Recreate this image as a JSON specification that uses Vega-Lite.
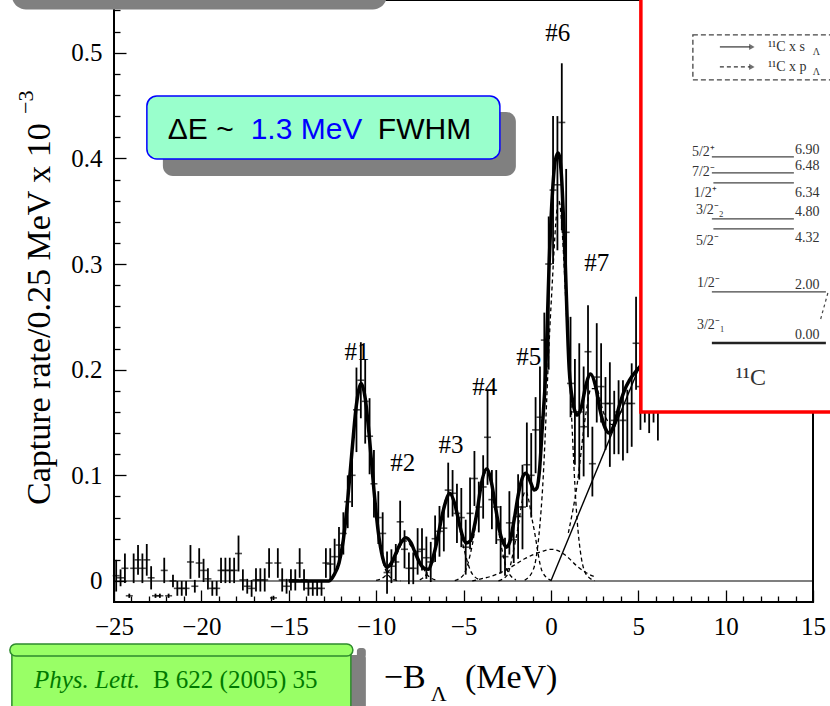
{
"$schema": "https://vega.github.io/schema/vega-lite/v6.json",
"width": 699, "height": 602,
"autosize": {"type": "none"},
"padding": {"left": 114, "top": 0, "right": 17, "bottom": 104},
"background": "white",
"config": {"view": {"stroke": "#000", "strokeWidth": 2}},
"resolve": {"axis": {"x": "independent", "y": "independent"}},
"datasets": {
"pts": [
{"x":-24.875,"y":0.005,"lo":-0.01,"hi":0.02},{"x":-24.625,"y":0.003,"lo":-0.005,"hi":0.011},{"x":-24.375,"y":0.012,"lo":-0.002,"hi":0.026},{"x":-24.125,"y":-0.014,"lo":-0.016,"hi":-0.012},
{"x":-23.875,"y":0.012,"lo":-0.002,"hi":0.026},{"x":-23.625,"y":0.02,"lo":0.006,"hi":0.034},{"x":-23.375,"y":0.012,"lo":-0.002,"hi":0.026},{"x":-23.125,"y":0.02,"lo":0.005,"hi":0.035},
{"x":-22.875,"y":0.003,"lo":-0.008,"hi":0.014},{"x":-22.625,"y":-0.014,"lo":-0.016,"hi":-0.012},{"x":-22.375,"y":-0.014,"lo":-0.016,"hi":-0.012},{"x":-22.125,"y":0.01,"lo":-0.002,"hi":0.022},
{"x":-21.875,"y":-0.014,"lo":-0.016,"hi":-0.012},{"x":-21.625,"y":0,"lo":-0.006,"hi":0.006},{"x":-21.375,"y":-0.007,"lo":-0.014,"hi":0},{"x":-21.125,"y":-0.007,"lo":-0.014,"hi":0},
{"x":-20.875,"y":-0.007,"lo":-0.014,"hi":0},{"x":-20.625,"y":0.018,"lo":0.002,"hi":0.034},{"x":-20.375,"y":-0.005,"lo":-0.011,"hi":0.001},{"x":-20.125,"y":0.017,"lo":0.003,"hi":0.031},
{"x":-19.875,"y":0.01,"lo":-0.001,"hi":0.021},{"x":-19.625,"y":0.002,"lo":-0.008,"hi":0.012},{"x":-19.375,"y":-0.007,"lo":-0.014,"hi":0},{"x":-19.125,"y":-0.007,"lo":-0.014,"hi":0},
{"x":-18.875,"y":0.01,"lo":-0.002,"hi":0.022},{"x":-18.625,"y":0.01,"lo":-0.002,"hi":0.022},{"x":-18.375,"y":0.01,"lo":-0.002,"hi":0.022},{"x":-18.125,"y":0.01,"lo":-0.002,"hi":0.022},
{"x":-17.875,"y":0.026,"lo":0.009,"hi":0.043},{"x":-17.625,"y":0.001,"lo":-0.009,"hi":0.011},{"x":-17.375,"y":-0.005,"lo":-0.012,"hi":0.002},{"x":-17.125,"y":-0.007,"lo":-0.015,"hi":0.001},
{"x":-16.875,"y":0.001,"lo":-0.01,"hi":0.012},{"x":-16.625,"y":0.001,"lo":-0.01,"hi":0.012},{"x":-16.375,"y":0.001,"lo":-0.01,"hi":0.012},{"x":-16.125,"y":0.017,"lo":0.003,"hi":0.031},
{"x":-15.875,"y":-0.016,"lo":-0.018,"hi":-0.014},{"x":-15.625,"y":0.017,"lo":0.003,"hi":0.031},{"x":-15.375,"y":0.001,"lo":-0.01,"hi":0.012},{"x":-15.125,"y":-0.005,"lo":-0.012,"hi":0.002},
{"x":-14.875,"y":0.001,"lo":-0.009,"hi":0.011},{"x":-14.625,"y":0.001,"lo":-0.009,"hi":0.011},{"x":-14.375,"y":0.017,"lo":0.003,"hi":0.031},{"x":-14.125,"y":0.001,"lo":-0.009,"hi":0.011},
{"x":-13.875,"y":-0.007,"lo":-0.014,"hi":0},{"x":-13.625,"y":-0.007,"lo":-0.014,"hi":0},{"x":-13.375,"y":-0.007,"lo":-0.014,"hi":0},{"x":-13.125,"y":-0.007,"lo":-0.014,"hi":0},
{"x":-12.875,"y":0.017,"lo":0.003,"hi":0.031},{"x":-12.625,"y":0.016,"lo":0.001,"hi":0.031},{"x":-12.375,"y":0.023,"lo":0.006,"hi":0.04},{"x":-12.125,"y":0.034,"lo":0.017,"hi":0.051},
{"x":-11.875,"y":0.045,"lo":0.025,"hi":0.065},{"x":-11.625,"y":0.075,"lo":0.05,"hi":0.1},{"x":-11.375,"y":0.1,"lo":0.07,"hi":0.13},{"x":-11.125,"y":0.162,"lo":0.122,"hi":0.202},
{"x":-10.875,"y":0.19,"lo":0.154,"hi":0.226},{"x":-10.625,"y":0.17,"lo":0.13,"hi":0.21},{"x":-10.375,"y":0.137,"lo":0.101,"hi":0.173},{"x":-10.125,"y":0.092,"lo":0.06,"hi":0.124},
{"x":-9.875,"y":0.06,"lo":0.035,"hi":0.085},{"x":-9.625,"y":0.045,"lo":0.025,"hi":0.065},{"x":-9.375,"y":0.008,"lo":-0.012,"hi":0.028},{"x":-9.125,"y":0.014,"lo":-0.002,"hi":0.03},
{"x":-8.875,"y":0.018,"lo":0.001,"hi":0.035},{"x":-8.625,"y":0.056,"lo":0.036,"hi":0.076},{"x":-8.375,"y":0.03,"lo":0.012,"hi":0.048},{"x":-8.125,"y":0.012,"lo":-0.003,"hi":0.027},
{"x":-7.875,"y":0.012,"lo":-0.003,"hi":0.027},{"x":-7.625,"y":0.028,"lo":0.006,"hi":0.05},{"x":-7.375,"y":0.03,"lo":0.01,"hi":0.05},{"x":-7.125,"y":0.022,"lo":0.002,"hi":0.042},
{"x":-6.875,"y":0.018,"lo":-0.001,"hi":0.037},{"x":-6.625,"y":0.04,"lo":0.018,"hi":0.062},{"x":-6.375,"y":0.047,"lo":0.023,"hi":0.071},{"x":-6.125,"y":0.05,"lo":0.028,"hi":0.072},
{"x":-5.875,"y":0.086,"lo":0.06,"hi":0.112},{"x":-5.625,"y":0.083,"lo":0.061,"hi":0.105},{"x":-5.375,"y":0.064,"lo":0.036,"hi":0.092},{"x":-5.125,"y":0.06,"lo":0.032,"hi":0.088},
{"x":-4.875,"y":0.032,"lo":0.006,"hi":0.058},{"x":-4.625,"y":0.064,"lo":0.03,"hi":0.098},{"x":-4.375,"y":0.097,"lo":0.071,"hi":0.123},{"x":-4.125,"y":0.07,"lo":0.046,"hi":0.094},
{"x":-3.875,"y":0.089,"lo":0.059,"hi":0.119},{"x":-3.625,"y":0.136,"lo":0.091,"hi":0.181},{"x":-3.375,"y":0.077,"lo":0.049,"hi":0.105},{"x":-3.125,"y":0.07,"lo":0.035,"hi":0.105},
{"x":-2.875,"y":0.039,"lo":0.007,"hi":0.071},{"x":-2.625,"y":0.023,"lo":0.005,"hi":0.041},{"x":-2.375,"y":0.055,"lo":0.025,"hi":0.085},{"x":-2.125,"y":0.039,"lo":0.017,"hi":0.061},
{"x":-1.875,"y":0.061,"lo":0.021,"hi":0.101},{"x":-1.625,"y":0.07,"lo":0.03,"hi":0.11},{"x":-1.375,"y":0.11,"lo":0.07,"hi":0.15},{"x":-1.125,"y":0.1,"lo":0.06,"hi":0.14},
{"x":-0.875,"y":0.143,"lo":0.102,"hi":0.174},{"x":-0.625,"y":0.155,"lo":0.102,"hi":0.203},{"x":-0.375,"y":0.228,"lo":0.165,"hi":0.254},{"x":-0.125,"y":0.3,"lo":0.2,"hi":0.345},
{"x":0.125,"y":0.37,"lo":0.3,"hi":0.44},{"x":0.375,"y":0.375,"lo":0.313,"hi":0.44},{"x":0.625,"y":0.434,"lo":0.332,"hi":0.49},{"x":0.875,"y":0.33,"lo":0.27,"hi":0.39},
{"x":1.125,"y":0.187,"lo":0.155,"hi":0.25},{"x":1.375,"y":0.16,"lo":0.11,"hi":0.21},{"x":1.625,"y":0.16,"lo":0.096,"hi":0.225},{"x":1.875,"y":0.146,"lo":0.099,"hi":0.203},
{"x":2.125,"y":0.217,"lo":0.136,"hi":0.261},{"x":2.375,"y":0.111,"lo":0.08,"hi":0.146},{"x":2.625,"y":0.193,"lo":0.15,"hi":0.244},{"x":2.875,"y":0.184,"lo":0.15,"hi":0.225},
{"x":3.125,"y":0.168,"lo":0.124,"hi":0.193},{"x":3.375,"y":0.168,"lo":0.108,"hi":0.207},{"x":3.625,"y":0.152,"lo":0.12,"hi":0.18},{"x":3.875,"y":0.16,"lo":0.12,"hi":0.19},
{"x":4.125,"y":0.152,"lo":0.114,"hi":0.19},{"x":4.375,"y":0.168,"lo":0.121,"hi":0.181},{"x":4.625,"y":0.168,"lo":0.127,"hi":0.206},{"x":4.875,"y":0.225,"lo":0.181,"hi":0.269},
{"x":5.125,"y":0.184,"lo":0.143,"hi":0.225},{"x":5.375,"y":0.2,"lo":0.15,"hi":0.25},{"x":5.625,"y":0.21,"lo":0.14,"hi":0.28},{"x":5.875,"y":0.2,"lo":0.15,"hi":0.25},
{"x":6.125,"y":0.19,"lo":0.133,"hi":0.25}
],
"fit": [
{"x":-15,"y":0},{"x":-12.7,"y":0},{"x":-12.4,"y":0.006},{"x":-12.125,"y":0.017},{"x":-11.875,"y":0.039},{"x":-11.625,"y":0.077},{"x":-11.375,"y":0.124},{"x":-11.125,"y":0.167},{"x":-10.85,"y":0.187},{"x":-10.625,"y":0.173},{"x":-10.375,"y":0.134},{"x":-10.125,"y":0.086},{"x":-9.875,"y":0.046},{"x":-9.625,"y":0.022},{"x":-9.4,"y":0.013},{"x":-9.125,"y":0.017},{"x":-8.875,"y":0.026},{"x":-8.625,"y":0.035},{"x":-8.3,"y":0.041},{"x":-8,"y":0.036},{"x":-7.75,"y":0.026},{"x":-7.5,"y":0.017},{"x":-7.25,"y":0.012},{"x":-7,"y":0.011},{"x":-6.75,"y":0.022},{"x":-6.5,"y":0.039},{"x":-6.25,"y":0.06},{"x":-6,"y":0.076},{"x":-5.8,"y":0.083},{"x":-5.5,"y":0.073},{"x":-5.25,"y":0.055},{"x":-5,"y":0.04},{"x":-4.83,"y":0.036},{"x":-4.6,"y":0.038},{"x":-4.4,"y":0.05},{"x":-4.2,"y":0.068},{"x":-4,"y":0.09},{"x":-3.68,"y":0.106},{"x":-3.4,"y":0.093},{"x":-3.15,"y":0.068},{"x":-2.9,"y":0.045},{"x":-2.65,"y":0.034},{"x":-2.54,"y":0.032},{"x":-2.35,"y":0.037},{"x":-2.1,"y":0.058},{"x":-1.85,"y":0.083},{"x":-1.6,"y":0.099},{"x":-1.43,"y":0.102},{"x":-1.2,"y":0.095},{"x":-0.95,"y":0.086},{"x":-0.8,"y":0.088},{"x":-0.65,"y":0.105},{"x":-0.5,"y":0.143},{"x":-0.29,"y":0.2},{"x":-0.1,"y":0.3},{"x":0.1,"y":0.37},{"x":0.25,"y":0.398},{"x":0.42,"y":0.405},{"x":0.6,"y":0.385},{"x":0.8,"y":0.31},{"x":1.05,"y":0.2},{"x":1.25,"y":0.17},{"x":1.51,"y":0.157},{"x":1.75,"y":0.165},{"x":2,"y":0.185},{"x":2.27,"y":0.196},{"x":2.55,"y":0.185},{"x":2.8,"y":0.163},{"x":3.1,"y":0.145},{"x":3.34,"y":0.14},{"x":3.6,"y":0.147},{"x":3.9,"y":0.165},{"x":4.2,"y":0.18},{"x":4.5,"y":0.19},{"x":5,"y":0.201},{"x":5.5,"y":0.21},{"x":6,"y":0.22}
],
"comps": [
{"c":"G1","x":-12.5,"y":0.003},{"c":"G1","x":-12,"y":0.026},{"c":"G1","x":-11.5,"y":0.1},{"c":"G1","x":-11,"y":0.181},{"c":"G1","x":-10.85,"y":0.187},{"c":"G1","x":-10.5,"y":0.156},{"c":"G1","x":-10,"y":0.064},{"c":"G1","x":-9.5,"y":0.0125},{"c":"G1","x":-9,"y":0.0012},{"c":"G1","x":-8.6,"y":0},
{"c":"G2","x":-10,"y":0.0005},{"c":"G2","x":-9.5,"y":0.0045},{"c":"G2","x":-9,"y":0.018},{"c":"G2","x":-8.5,"y":0.036},{"c":"G2","x":-8.3,"y":0.038},{"c":"G2","x":-8,"y":0.033},{"c":"G2","x":-7.5,"y":0.018},{"c":"G2","x":-7,"y":0.0045},{"c":"G2","x":-6.5,"y":0.0005},
{"c":"G3","x":-7.5,"y":0.0011},{"c":"G3","x":-7,"y":0.0098},{"c":"G3","x":-6.5,"y":0.04},{"c":"G3","x":-6,"y":0.078},{"c":"G3","x":-5.8,"y":0.083},{"c":"G3","x":-5.5,"y":0.0726},{"c":"G3","x":-5,"y":0.032},{"c":"G3","x":-4.5,"y":0.0067},{"c":"G3","x":-4,"y":0.0007},
{"c":"G4","x":-5.5,"y":0.0004},{"c":"G4","x":-5,"y":0.0058},{"c":"G4","x":-4.5,"y":0.034},{"c":"G4","x":-4,"y":0.088},{"c":"G4","x":-3.68,"y":0.104},{"c":"G4","x":-3.4,"y":0.091},{"c":"G4","x":-3,"y":0.048},{"c":"G4","x":-2.5,"y":0.0104},{"c":"G4","x":-2,"y":0.001},
{"c":"G5","x":-3,"y":0.0002},{"c":"G5","x":-2.5,"y":0.0056},{"c":"G5","x":-2,"y":0.04},{"c":"G5","x":-1.45,"y":0.085},{"c":"G5","x":-1,"y":0.052},{"c":"G5","x":-0.5,"y":0.0092},{"c":"G5","x":0,"y":0.0005},
{"c":"B","x":-4.5,"y":0},{"c":"B","x":-4,"y":0.002},{"c":"B","x":-3.5,"y":0.004},{"c":"B","x":-3,"y":0.007},{"c":"B","x":-2.5,"y":0.011},{"c":"B","x":-2,"y":0.016},{"c":"B","x":-1.5,"y":0.021},{"c":"B","x":-1,"y":0.025},{"c":"B","x":-0.5,"y":0.028},{"c":"B","x":0,"y":0.03},{"c":"B","x":0.5,"y":0.028},{"c":"B","x":1,"y":0.022},{"c":"B","x":1.5,"y":0.014},{"c":"B","x":2,"y":0.008},{"c":"B","x":2.5,"y":0.004},
{"c":"G6","x":-1.5,"y":0.0007},{"c":"G6","x":-1,"y":0.011},{"c":"G6","x":-0.5,"y":0.081},{"c":"G6","x":0,"y":0.258},{"c":"G6","x":0.45,"y":0.36},{"c":"G6","x":1,"y":0.218},{"c":"G6","x":1.5,"y":0.058},{"c":"G6","x":2,"y":0.0068},{"c":"G6","x":2.5,"y":0.0003},
{"c":"G7","x":1,"y":0.0455},{"c":"G7","x":1.5,"y":0.091},{"c":"G7","x":2,"y":0.158},{"c":"G7","x":2.3,"y":0.182},{"c":"G7","x":2.6,"y":0.182},{"c":"G7","x":3,"y":0.16},{"c":"G7","x":3.5,"y":0.148},{"c":"G7","x":4,"y":0.161}
]
},
"layer": [
{"data": {"values": [{"x": -25, "x2": 15, "y": 0}]},
 "mark": {"type": "rule", "color": "#000", "strokeWidth": 1.2},
 "encoding": {
  "x": {"field": "x", "type": "quantitative", "scale": {"domain": [-25, 15], "nice": false, "zero": false},
   "axis": {"orient": "bottom", "title": null, "grid": false, "domain": false,
    "values": [-25,-20,-15,-10,-5,0,5,10,15],
    "tickSize": -12, "tickColor": "#000", "tickWidth": 1.3,
    "labelExpr": "datum.value < 0 ? '−' + abs(datum.value) : '' + datum.value",
    "labelPadding": 24, "labelFlush": false, "labelOverlap": false, "labelBound": false,
    "labelFont": "Liberation Serif", "labelFontSize": 25, "labelColor": "#000"}},
  "x2": {"field": "x2"},
  "y": {"field": "y", "type": "quantitative", "scale": {"domain": [-0.0199, 0.5499], "nice": false, "zero": false},
   "axis": {"orient": "left", "title": null, "grid": false, "domain": false,
    "values": [0,0.1,0.2,0.3,0.4,0.5],
    "tickSize": -12, "tickColor": "#000", "tickWidth": 1.3,
    "labelExpr": "datum.value === 0 ? '0' : format(datum.value, '.1f')",
    "labelPadding": 24, "labelFlush": false, "labelOverlap": false, "labelBound": false,
    "labelFont": "Liberation Serif", "labelFontSize": 25, "labelColor": "#000"}}
 }},
{"data": {"name": "pts"},
 "mark": {"type": "rule", "color": "#000", "strokeWidth": 1.8},
 "encoding": {
  "x": {"field": "x", "type": "quantitative",
   "axis": {"orient": "bottom", "title": null, "grid": false, "domain": false, "labels": false,
    "values": [-24,-23,-22,-21,-19,-18,-17,-16,-14,-13,-12,-11,-9,-8,-7,-6,-4,-3,-2,-1,1,2,3,4,6,7,8,9,11,12,13,14],
    "tickSize": -6, "tickColor": "#000", "tickWidth": 1.3}},
  "y": {"field": "lo", "type": "quantitative",
   "axis": {"orient": "left", "title": null, "grid": false, "domain": false, "labels": false,
    "values": [0.02,0.04,0.06,0.08,0.12,0.14,0.16,0.18,0.22,0.24,0.26,0.28,0.32,0.34,0.36,0.38,0.42,0.44,0.46,0.48,0.52,0.54],
    "tickSize": -6, "tickColor": "#000", "tickWidth": 1.3}},
  "y2": {"field": "hi"}}},
{"data": {"name": "pts"},
 "mark": {"type": "tick", "orient": "horizontal", "color": "#000", "size": 7, "thickness": 1.6},
 "encoding": {"x": {"field": "x", "type": "quantitative", "axis": null}, "y": {"field": "y", "type": "quantitative", "axis": null}}},
{"data": {"name": "comps"},
 "mark": {"type": "line", "color": "#000", "strokeWidth": 1.3, "strokeDash": [4, 3], "interpolate": "monotone"},
 "encoding": {"x": {"field": "x", "type": "quantitative", "axis": null}, "y": {"field": "y", "type": "quantitative", "axis": null}, "detail": {"field": "c"}}},
{"data": {"values": [{"x": 0, "y": 0, "x2": 8, "y2": 0.32}]},
 "mark": {"type": "rule", "color": "#000", "strokeWidth": 1.4},
 "encoding": {"x": {"field": "x", "type": "quantitative", "axis": null}, "y": {"field": "y", "type": "quantitative", "axis": null}, "x2": {"field": "x2"}, "y2": {"field": "y2"}}},
{"data": {"name": "fit"},
 "mark": {"type": "line", "color": "#000", "strokeWidth": 3.5, "interpolate": "monotone"},
 "encoding": {"x": {"field": "x", "type": "quantitative", "axis": null}, "y": {"field": "y", "type": "quantitative", "axis": null}}},
{"data": {"values": [{"x": -11.1, "y": 0.217, "t": "#1"}, {"x": -8.47, "y": 0.112, "t": "#2"}, {"x": -5.72, "y": 0.129, "t": "#3"}, {"x": -3.78, "y": 0.184, "t": "#4"}, {"x": -1.26, "y": 0.212, "t": "#5"}, {"x": 0.4, "y": 0.519, "t": "#6"}, {"x": 2.63, "y": 0.301, "t": "#7"}]},
 "mark": {"type": "text", "font": "Liberation Serif", "fontSize": 25, "color": "#000", "align": "center", "baseline": "middle"},
 "encoding": {"x": {"field": "x", "type": "quantitative", "axis": null}, "y": {"field": "y", "type": "quantitative", "axis": null}, "text": {"field": "t"}}},
{"data": {"values": [{"x": -22.203, "x2": -2.003, "y": 0.444, "y2": 0.3834}]},
 "mark": {"type": "rect", "color": "#808080", "cornerRadius": 10},
 "encoding": {"x": {"field": "x", "type": "quantitative", "axis": null}, "x2": {"field": "x2"}, "y": {"field": "y", "type": "quantitative", "axis": null}, "y2": {"field": "y2"}}},
{"data": {"values": [{"x": -23.119, "x2": -2.918, "y": 0.4591, "y2": 0.3995}]},
 "mark": {"type": "rect", "fill": "#99ffcc", "stroke": "#0000ff", "strokeWidth": 1.5, "cornerRadius": 10},
 "encoding": {"x": {"field": "x", "type": "quantitative", "axis": null}, "x2": {"field": "x2"}, "y": {"field": "y", "type": "quantitative", "axis": null}, "y2": {"field": "y2"}}},
{"data": {"values": [{"x": -21.92, "y": 0.418, "t": "ΔE ~"}, {"x": -9.9, "y": 0.418, "t": "FWHM"}]},
 "mark": {"type": "text", "font": "Liberation Sans", "fontSize": 30, "color": "#000", "align": "left", "baseline": "alphabetic"},
 "encoding": {"x": {"field": "x", "type": "quantitative", "axis": null}, "y": {"field": "y", "type": "quantitative", "axis": null}, "text": {"field": "t"}}},
{"data": {"values": [{"x": -17.18, "y": 0.418, "t": "1.3 MeV"}]},
 "mark": {"type": "text", "font": "Liberation Sans", "fontSize": 30, "color": "#0000ff", "align": "left", "baseline": "alphabetic"},
 "encoding": {"x": {"field": "x", "type": "quantitative", "axis": null}, "y": {"field": "y", "type": "quantitative", "axis": null}, "text": {"field": "t"}}},
{"data": {"values": [{"x": -30.844, "x2": -9.385, "y": 0.5784, "y2": 0.541}]},
 "mark": {"type": "rect", "color": "#808080", "cornerRadius": 14},
 "encoding": {"x": {"field": "x", "type": "quantitative", "axis": null}, "x2": {"field": "x2"}, "y": {"field": "y", "type": "quantitative", "axis": null}, "y2": {"field": "y2"}}},
{"data": {"values": [{"x": 5.15, "x2": 16.824, "y": 0.5594, "y2": 0.16}]},
 "mark": {"type": "rect", "fill": "#ffffff", "stroke": "#ff0000", "strokeWidth": 3.5},
 "encoding": {"x": {"field": "x", "type": "quantitative", "axis": null}, "x2": {"field": "x2"}, "y": {"field": "y", "type": "quantitative", "axis": null}, "y2": {"field": "y2"}}},
{"data": {"values": [{"x": 8.126, "x2": 16.824, "y": 0.5169, "y2": 0.4743}]},
 "mark": {"type": "rect", "filled": false, "color": "#444", "strokeWidth": 1.3, "strokeDash": [5, 3]},
 "encoding": {"x": {"field": "x", "type": "quantitative", "axis": null}, "x2": {"field": "x2"}, "y": {"field": "y", "type": "quantitative", "axis": null}, "y2": {"field": "y2"}}},
{"data": {"values": [{"x": 9.671, "x2": 11.4, "y": 0.5055}]},
 "mark": {"type": "rule", "color": "#333", "strokeWidth": 1.2},
 "encoding": {"x": {"field": "x", "type": "quantitative", "axis": null}, "x2": {"field": "x2"}, "y": {"field": "y", "type": "quantitative", "axis": null}}},
{"data": {"values": [{"x": 9.671, "x2": 11.4, "y": 0.4866}]},
 "mark": {"type": "rule", "color": "#333", "strokeWidth": 1.2, "strokeDash": [4, 3]},
 "encoding": {"x": {"field": "x", "type": "quantitative", "axis": null}, "x2": {"field": "x2"}, "y": {"field": "y", "type": "quantitative", "axis": null}}},
{"data": {"values": [{"x": 11.5, "y": 0.5055}, {"x": 11.5, "y": 0.4866}]},
 "mark": {"type": "point", "shape": "triangle-right", "filled": true, "color": "#333", "size": 40},
 "encoding": {"x": {"field": "x", "type": "quantitative", "axis": null}, "y": {"field": "y", "type": "quantitative", "axis": null}}},
{"data": {"values": [{"x": 12.418, "y": 0.5055, "t": "¹¹C  x s"}, {"x": 12.418, "y": 0.4866, "t": "¹¹C  x p"}]},
 "mark": {"type": "text", "font": "Liberation Serif", "fontSize": 14, "color": "#333", "align": "left", "baseline": "middle"},
 "encoding": {"x": {"field": "x", "type": "quantitative", "axis": null}, "y": {"field": "y", "type": "quantitative", "axis": null}, "text": {"field": "t"}}},
{"data": {"values": [{"x": 14.99, "y": 0.5008, "t": "Λ"}, {"x": 14.99, "y": 0.4818, "t": "Λ"}]},
 "mark": {"type": "text", "font": "Liberation Serif", "fontSize": 10, "color": "#333", "align": "left", "baseline": "middle"},
 "encoding": {"x": {"field": "x", "type": "quantitative", "axis": null}, "y": {"field": "y", "type": "quantitative", "axis": null}, "text": {"field": "t"}}},
{"data": {"values": [{"x": 9.213, "x2": 13.906, "y": 0.4014}, {"x": 9.213, "x2": 13.906, "y": 0.3862}, {"x": 9.3, "x2": 13.906, "y": 0.3768}, {"x": 9.213, "x2": 13.906, "y": 0.3427}, {"x": 9.3, "x2": 13.906, "y": 0.3332}, {"x": 9.213, "x2": 15.737, "y": 0.2736}]},
 "mark": {"type": "rule", "color": "#444", "strokeWidth": 1.3},
 "encoding": {"x": {"field": "x", "type": "quantitative", "axis": null}, "x2": {"field": "x2"}, "y": {"field": "y", "type": "quantitative", "axis": null}}},
{"data": {"values": [{"x": 9.213, "x2": 15.737, "y": 0.2253}]},
 "mark": {"type": "rule", "color": "#222", "strokeWidth": 2.5},
 "encoding": {"x": {"field": "x", "type": "quantitative", "axis": null}, "x2": {"field": "x2"}, "y": {"field": "y", "type": "quantitative", "axis": null}}},
{"data": {"values": [{"x": 15.851, "y": 0.2726, "x2": 15.393, "y2": 0.2452}]},
 "mark": {"type": "rule", "color": "#444", "strokeWidth": 1.2, "strokeDash": [3, 3]},
 "encoding": {"x": {"field": "x", "type": "quantitative", "axis": null}, "x2": {"field": "x2"}, "y": {"field": "y", "type": "quantitative", "axis": null}, "y2": {"field": "y2"}}},
{"data": {"values": [{"x": 8.069, "y": 0.4061, "t": "5/2⁺"}, {"x": 8.069, "y": 0.3872, "t": "7/2⁻"}, {"x": 8.183, "y": 0.3673, "t": "1/2⁺"}, {"x": 8.298, "y": 0.3512, "t": "3/2⁻₂"}, {"x": 8.298, "y": 0.3218, "t": "5/2⁻"}, {"x": 8.355, "y": 0.2821, "t": "1/2⁻"}, {"x": 8.355, "y": 0.2423, "t": "3/2⁻₁"},
  {"x": 13.963, "y": 0.4075, "t": "6.90"}, {"x": 13.963, "y": 0.3925, "t": "6.48"}, {"x": 13.963, "y": 0.3673, "t": "6.34"}, {"x": 13.963, "y": 0.3493, "t": "4.80"}, {"x": 13.963, "y": 0.3247, "t": "4.32"}, {"x": 13.963, "y": 0.2802, "t": "2.00"}, {"x": 13.963, "y": 0.2329, "t": "0.00"}]},
 "mark": {"type": "text", "font": "Liberation Serif", "fontSize": 14, "color": "#333", "align": "left", "baseline": "middle"},
 "encoding": {"x": {"field": "x", "type": "quantitative", "axis": null}, "y": {"field": "y", "type": "quantitative", "axis": null}, "text": {"field": "t"}}},
{"data": {"values": [{"x": 11.445, "y": 0.1922, "t": "¹¹C"}]},
 "mark": {"type": "text", "font": "Liberation Serif", "fontSize": 24, "color": "#333", "align": "center", "baseline": "middle"},
 "encoding": {"x": {"field": "x", "type": "quantitative", "axis": null}, "y": {"field": "y", "type": "quantitative", "axis": null}, "text": {"field": "t"}}},
{"data": {"values": [{"x": -11.559, "x2": -10.587, "y": -0.07, "y2": -0.13}, {"x": -11.1, "x2": -10.59, "y": -0.0634, "y2": -0.0729}]},
 "mark": {"type": "rect", "color": "#808080", "cornerRadius": 3},
 "encoding": {"x": {"field": "x", "type": "quantitative", "axis": null}, "x2": {"field": "x2"}, "y": {"field": "y", "type": "quantitative", "axis": null}, "y2": {"field": "y2"}}},
{"data": {"values": [{"x": -30.844, "x2": -11.445, "y": -0.0653, "y2": -0.13}]},
 "mark": {"type": "rect", "fill": "#99ff66", "stroke": "#2e8b2e", "strokeWidth": 1.5},
 "encoding": {"x": {"field": "x", "type": "quantitative", "axis": null}, "x2": {"field": "x2"}, "y": {"field": "y", "type": "quantitative", "axis": null}, "y2": {"field": "y2"}}},
{"data": {"values": [{"x": -30.959, "x2": -11.33, "y": -0.0596, "y2": -0.071}]},
 "mark": {"type": "rect", "fill": "#99ff66", "stroke": "#2e8b2e", "strokeWidth": 1.5, "cornerRadius": 6},
 "encoding": {"x": {"field": "x", "type": "quantitative", "axis": null}, "x2": {"field": "x2"}, "y": {"field": "y", "type": "quantitative", "axis": null}, "y2": {"field": "y2"}}},
{"data": {"values": [{"x": -29.585, "y": -0.1013, "t": "Phys. Lett."}]},
 "mark": {"type": "text", "font": "Liberation Serif", "fontSize": 25, "fontStyle": "italic", "color": "#007a00", "align": "left", "baseline": "alphabetic"},
 "encoding": {"x": {"field": "x", "type": "quantitative", "axis": null}, "y": {"field": "y", "type": "quantitative", "axis": null}, "text": {"field": "t"}}},
{"data": {"values": [{"x": -22.775, "y": -0.1013, "t": "B 622 (2005) 35"}]},
 "mark": {"type": "text", "font": "Liberation Serif", "fontSize": 25, "color": "#007a00", "align": "left", "baseline": "alphabetic"},
 "encoding": {"x": {"field": "x", "type": "quantitative", "axis": null}, "y": {"field": "y", "type": "quantitative", "axis": null}, "text": {"field": "t"}}},
{"data": {"values": [{"x": -9.557, "y": -0.1013, "t": "−B"}, {"x": -4.921, "y": -0.1013, "t": "(MeV)"}]},
 "mark": {"type": "text", "font": "Liberation Serif", "fontSize": 34, "color": "#000", "align": "left", "baseline": "alphabetic"},
 "encoding": {"x": {"field": "x", "type": "quantitative", "axis": null}, "y": {"field": "y", "type": "quantitative", "axis": null}, "text": {"field": "t"}}},
{"data": {"values": [{"x": -6.867, "y": -0.1135, "t": "Λ"}]},
 "mark": {"type": "text", "font": "Liberation Serif", "fontSize": 22, "color": "#000", "align": "left", "baseline": "alphabetic"},
 "encoding": {"x": {"field": "x", "type": "quantitative", "axis": null}, "y": {"field": "y", "type": "quantitative", "axis": null}, "text": {"field": "t"}}},
{"data": {"values": [{"x": -28.67, "y": 0.0719, "t": "Capture rate/0.25 MeV  x 10"}]},
 "mark": {"type": "text", "font": "Liberation Serif", "fontSize": 34, "color": "#000", "align": "left", "baseline": "alphabetic", "angle": 270},
 "encoding": {"x": {"field": "x", "type": "quantitative", "axis": null}, "y": {"field": "y", "type": "quantitative", "axis": null}, "text": {"field": "t"}}},
{"data": {"values": [{"x": -29.64, "y": 0.4421, "t": "−3"}]},
 "mark": {"type": "text", "font": "Liberation Serif", "fontSize": 22, "color": "#000", "align": "left", "baseline": "alphabetic", "angle": 270},
 "encoding": {"x": {"field": "x", "type": "quantitative", "axis": null}, "y": {"field": "y", "type": "quantitative", "axis": null}, "text": {"field": "t"}}}
]
}
